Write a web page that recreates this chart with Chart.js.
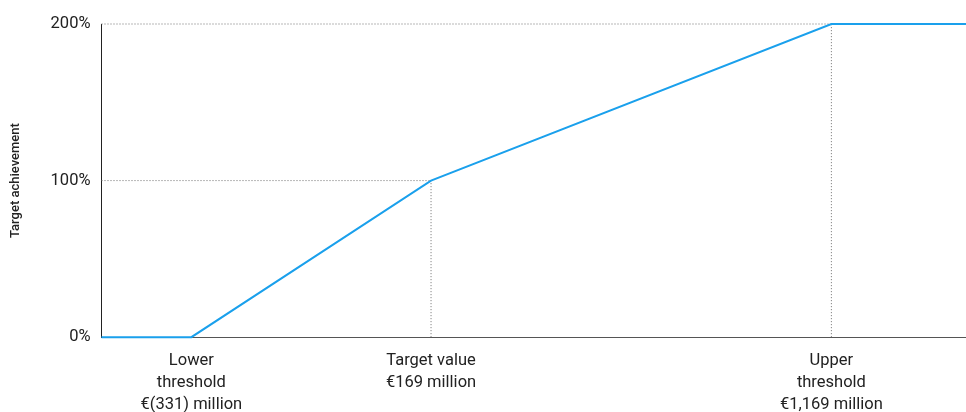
<!DOCTYPE html>
<html>
<head>
<meta charset="utf-8">
<script src="https://cdn.jsdelivr.net/npm/chart.js@4/dist/chart.umd.min.js"></script>
<style>
  html, body { margin: 0; padding: 0; background: #fff; }
  #wrap { width: 966px; height: 412px; }
</style>
</head>
<body>
<div id="wrap"><canvas id="target"></canvas></div>
<script>
// schematic positions of the thresholds on the x axis (not to scale, like the original)
const axisEnd = 9.62;
const thresholdPos = [1, 3.667, 8.122];
const thresholdLabels = [
  ["Lower", "threshold", "€(331) million"],
  ["Target value", "€169 million"],
  ["Upper", "threshold", "€1,169 million"]
];
const achievement = [0, 100, 200];
const yTicks = [0, 100, 200];

const blue = "#1aa0ec";
const dotted = "#6f6f6f";

// payout curve: flat at 0, up through the thresholds, flat at 200
const curve = [{ x: 0, y: achievement[0] }]
  .concat(thresholdPos.map((x, i) => ({ x: x, y: achievement[i] })))
  .concat([{ x: axisEnd, y: achievement[2] }]);

// dotted guide lines for target value and upper threshold
const guides = [];
[1, 2].forEach(i => {
  guides.push([{ x: 0, y: achievement[i] }, { x: thresholdPos[i], y: achievement[i] }]);
  guides.push([{ x: thresholdPos[i], y: 0 }, { x: thresholdPos[i], y: achievement[i] }]);
});

const guideSets = guides.map(g => ({
  data: g,
  borderColor: dotted,
  borderWidth: 1,
  borderDash: [1, 2],
  pointRadius: 0,
  clip: 2,
  order: 2
}));

new Chart(document.getElementById("target"), {
  type: "line",
  data: {
    datasets: [{
      data: curve,
      borderColor: blue,
      borderWidth: 2,
      pointRadius: 0,
      tension: 0,
      clip: 4,
      order: 1
    }].concat(guideSets)
  },
  options: {
    responsive: true,
    maintainAspectRatio: false,
    animation: false,
    layout: { padding: { top: 24, right: 0, left: 0, bottom: -17 } },
    plugins: { legend: { display: false }, tooltip: { enabled: false } },
    scales: {
      x: {
        type: "linear",
        min: 0,
        max: axisEnd,
        afterBuildTicks: axis => { axis.ticks = thresholdPos.map(v => ({ value: v })); },
        grid: { display: false, drawTicks: false },
        border: { display: true, color: "#555", width: 1 },
        ticks: {
          autoSkip: false,
          maxRotation: 0,
          padding: 13,
          color: "#222",
          font: { family: "Roboto", size: 16.5, lineHeight: 1.33 },
          callback: (v, i) => thresholdLabels[i]
        }
      },
      y: {
        min: 0,
        max: 200,
        afterBuildTicks: axis => { axis.ticks = yTicks.map(v => ({ value: v })); },
        grid: { display: false, drawTicks: false },
        border: { display: true, color: "#222", width: 1 },
        title: {
          display: true,
          text: "Target achievement",
          color: "#222",
          font: { family: "Roboto", size: 13, weight: "500" },
          padding: { top: 8, bottom: 16 }
        },
        ticks: {
          padding: 11,
          color: "#222",
          font: { family: "Roboto", size: 16.5 },
          callback: v => v + "%"
        }
      }
    }
  }
});
</script>
</body>
</html>
